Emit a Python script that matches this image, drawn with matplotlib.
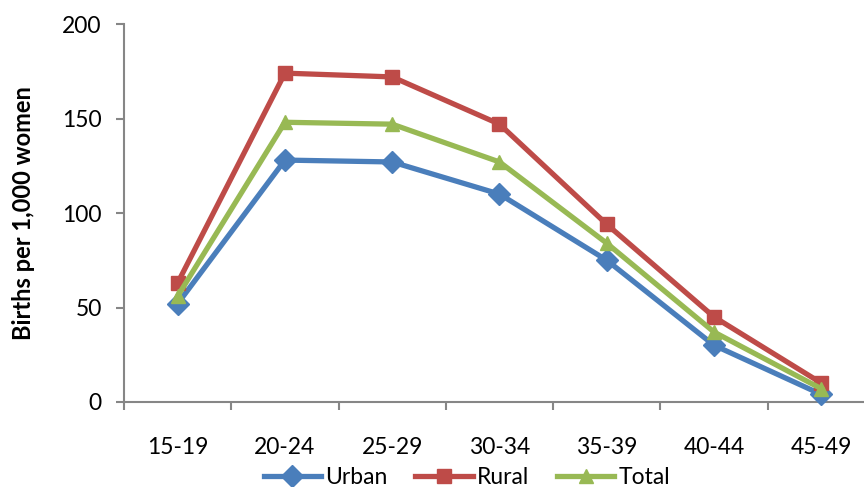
import matplotlib
matplotlib.use("Agg")
import matplotlib.pyplot as plt
from matplotlib.lines import Line2D

categories = ["15-19", "20-24", "25-29", "30-34", "35-39", "40-44", "45-49"]
urban = [52, 128, 127, 110, 75, 30, 4]
rural = [63, 174, 172, 147, 94, 45, 10]
total = [56, 148, 147, 127, 84, 37, 7]
yticks = [0, 50, 100, 150, 200]

plt.rcParams['font.family'] = ['Lato', 'DejaVu Sans']

W, H = 864, 487
fig = plt.figure(figsize=(W / 100, H / 100), dpi=100)
left, right, top, bottom = 124, 875, 24, 402
ax = fig.add_axes([left / W, 1 - bottom / H, (right - left) / W, (bottom - top) / H])

gray = "#868686"
series = [
    ("Urban", urban, "#4A7EBB", "D", 11),
    ("Rural", rural, "#BE4B48", "s", 9.5),
    ("Total", total, "#98B954", "^", 10),
]
x = list(range(len(categories)))
handles = []
for name, vals, col, mk, ms in series:
    ax.plot(x, vals, color=col, lw=3.8, marker=mk, ms=ms, mec=col, mfc=col,
            solid_joinstyle="round", clip_on=False, zorder=3)
    handles.append(Line2D([], [], color=col, lw=3.8, marker=mk, ms=ms, mec=col, mfc=col))

ax.set_xlim(-0.5, len(categories) - 0.5)
ax.set_ylim(0, 200)
ax.set_yticks(yticks)
ax.set_yticklabels([str(v) for v in yticks], fontsize=16.5)
ax.set_xticks(x)
ax.set_xticklabels(categories, fontsize=16.5)
ax.set_xticks([i - 0.5 for i in range(len(categories) + 1)], minor=True)
ax.tick_params(axis="x", which="major", length=0, pad=25)
ax.tick_params(axis="x", which="minor", length=6, width=1.5, color=gray, direction="out")
ax.tick_params(axis="y", length=6, width=1.5, color=gray, direction="out", pad=10)

for s in ["top", "right"]:
    ax.spines[s].set_visible(False)
for s in ["left", "bottom"]:
    ax.spines[s].set_color(gray)
    ax.spines[s].set_linewidth(1.5)

fig.text(24 / W, 1 - 213.5 / H, "Births per 1,000 women", rotation=90, fontsize=17,
         fontweight="bold", ha="center", va="center")

fig.legend(handles, [s[0] for s in series], loc="center", bbox_to_anchor=(467 / W, 1 - 478 / H),
           ncol=3, frameon=False, fontsize=16.5, handlelength=2.5, handletextpad=0.2,
           columnspacing=1.2, borderaxespad=0)

fig.savefig("out.png", dpi=100)
